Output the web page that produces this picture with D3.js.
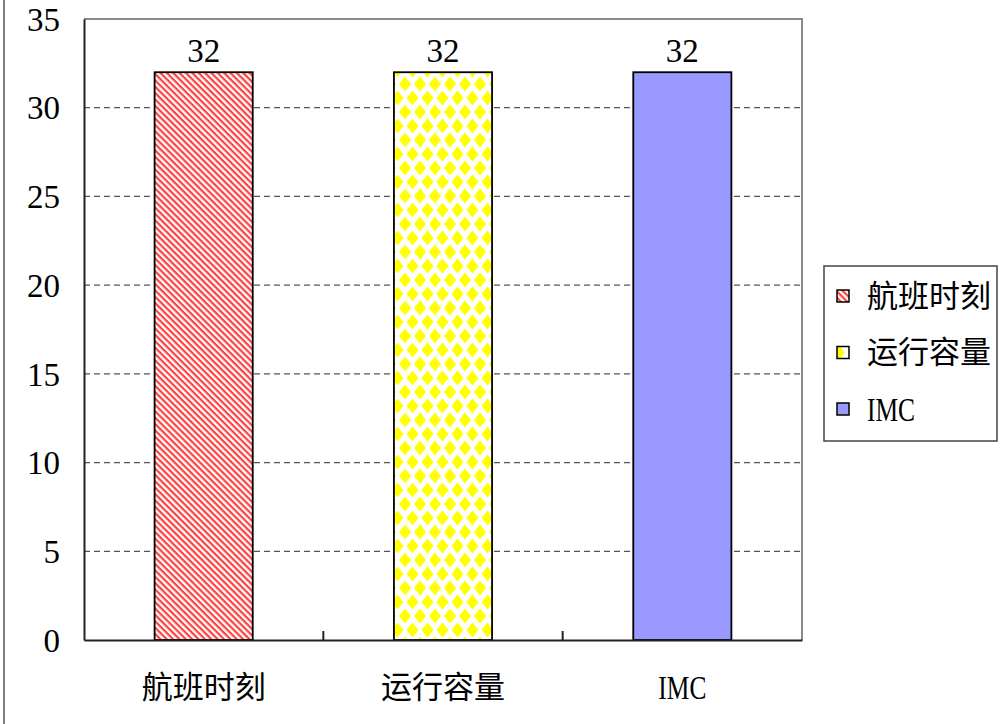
<!DOCTYPE html>
<html>
<head>
<meta charset="utf-8">
<script src="https://cdn.jsdelivr.net/npm/d3@7"></script>
<style>
  body { margin: 0; background: #fff; }
  svg { display: block; }
</style>
</head>
<body>
<svg width="1001" height="724"></svg>
<script>
// chart data
const categories = ['航班时刻', '运行容量', 'IMC'];
const values = [32, 32, 32];
const yTicks = [0, 5, 10, 15, 20, 25, 30, 35];
const fills = ['url(#stripes)', 'url(#diamonds)', '#9999ff'];

const svg = d3.select('svg');
const plot = { left: 84, right: 802, top: 19, bottom: 640 };
const isLatin = d => /^[A-Za-z0-9]+$/.test(d);

function styleText(sel) {
    sel.attr('font-family', d => isLatin(String(d)) ? 'Liberation Serif' : 'Noto Sans CJK SC')
        .attr('font-size', d => isLatin(String(d)) ? 33 : 31)
        .attr('fill', '#000');
}

// patterns
const defs = svg.append('defs');
const stripes = defs.append('pattern')
    .attr('id', 'stripes')
    .attr('patternUnits', 'userSpaceOnUse')
    .attr('width', 4.5)
    .attr('height', 4.5)
    .attr('patternTransform', 'rotate(45)');
stripes.append('rect').attr('width', 4.5).attr('height', 4.5).attr('fill', '#fff');
stripes.append('rect').attr('width', 4.5).attr('height', 2.2).attr('fill', '#ff4040');

const diamonds = defs.append('pattern')
    .attr('id', 'diamonds')
    .attr('patternUnits', 'userSpaceOnUse')
    .attr('width', 15)
    .attr('height', 28);
diamonds.append('rect').attr('width', 15).attr('height', 28).attr('fill', '#fff');
const dia = (cx, cy) => `M${cx - 6},${cy} L${cx},${cy - 7.5} L${cx + 6},${cy} L${cx},${cy + 7.5} Z`;
[[0, 0], [15, 0], [0, 28], [15, 28], [7.5, 14]].forEach(([cx, cy]) => {
    diamonds.append('path').attr('d', dia(cx, cy)).attr('fill', '#ffff00');
});

// scales
const x = d3.scaleBand().domain(categories).range([plot.left, plot.right]);
const y = d3.scaleLinear().domain([0, 35]).range([plot.bottom, plot.top]);
const barW = x.bandwidth() * 0.41;

// outer border (left edge only visible)
svg.append('line')
    .attr('x1', 4).attr('x2', 4).attr('y1', 0).attr('y2', 724)
    .attr('stroke', '#555').attr('stroke-width', 1.5);

// gridlines
svg.selectAll('.grid')
    .data(yTicks.filter(t => t > 0 && t < 35))
    .enter()
    .append('line')
    .attr('class', 'grid')
    .attr('x1', plot.left).attr('x2', plot.right)
    .attr('y1', d => y(d)).attr('y2', d => y(d))
    .attr('stroke', '#555')
    .attr('stroke-width', 1.2)
    .attr('stroke-dasharray', '6,4');

// plot frame top / right
svg.append('path')
    .attr('d', `M${plot.left},${plot.top} H${plot.right} V${plot.bottom}`)
    .attr('fill', 'none')
    .attr('stroke', '#8a8a8a')
    .attr('stroke-width', 2);

// bars
svg.selectAll('.bar')
    .data(values)
    .enter()
    .append('rect')
    .attr('class', 'bar')
    .attr('x', (d, i) => x(categories[i]) + (x.bandwidth() - barW) / 2)
    .attr('y', d => y(d))
    .attr('width', barW)
    .attr('height', d => y(0) - y(d))
    .attr('fill', (d, i) => fills[i])
    .attr('stroke', '#000')
    .attr('stroke-width', 1.8);

// value labels
svg.selectAll('.val')
    .data(values)
    .enter()
    .append('text')
    .attr('x', (d, i) => x(categories[i]) + x.bandwidth() / 2)
    .attr('y', d => y(d) - 22)
    .attr('text-anchor', 'middle')
    .attr('dy', '0.35em')
    .text(d => d)
    .call(styleText);

// y axis
const yAxis = svg.append('g')
    .attr('transform', `translate(${plot.left},0)`)
    .call(d3.axisLeft(y).tickValues(yTicks).tickSize(0).tickPadding(24));
yAxis.attr('font-family', null).attr('font-size', null);
yAxis.select('.domain').attr('stroke', '#222').attr('stroke-width', 2);
yAxis.selectAll('text')
    .attr('dy', '0.34em')
    .call(styleText);

// x axis
const xAxis = svg.append('g')
    .attr('transform', `translate(0,${plot.bottom})`)
    .call(d3.axisBottom(x).tickSize(0).tickPadding(0));
xAxis.attr('font-family', null).attr('font-size', null);
xAxis.select('.domain').attr('stroke', '#222').attr('stroke-width', 2);
xAxis.selectAll('text')
    .attr('y', 47)
    .attr('dy', '0.35em')
    .call(styleText);
xAxis.selectAll('text')
    .filter(isLatin)
    .attr('textLength', d => d.length * 16)
    .attr('lengthAdjust', 'spacingAndGlyphs');

// category separator ticks (pointing up)
svg.selectAll('.sep')
    .data(categories.slice(1))
    .enter()
    .append('line')
    .attr('x1', d => x(d)).attr('x2', d => x(d))
    .attr('y1', plot.bottom).attr('y2', plot.bottom - 9)
    .attr('stroke', '#222').attr('stroke-width', 2);

// legend
const legend = svg.append('g').attr('transform', 'translate(824,266)');
legend.append('rect')
    .attr('width', 173).attr('height', 175)
    .attr('fill', '#fff')
    .attr('stroke', '#444').attr('stroke-width', 1.5);
const items = legend.selectAll('.item')
    .data(categories)
    .enter()
    .append('g')
    .attr('transform', (d, i) => `translate(0,${30 + i * 56.5})`);
items.append('rect')
    .attr('x', 13).attr('y', -6)
    .attr('width', 12).attr('height', 12)
    .attr('fill', (d, i) => fills[i])
    .attr('stroke', '#000').attr('stroke-width', 1.5);
items.append('text')
    .attr('x', 43)
    .attr('dy', '0.35em')
    .attr('textLength', d => isLatin(d) ? d.length * 16 : null)
    .attr('lengthAdjust', 'spacingAndGlyphs')
    .text(d => d)
    .call(styleText);
</script>
</body>
</html>
